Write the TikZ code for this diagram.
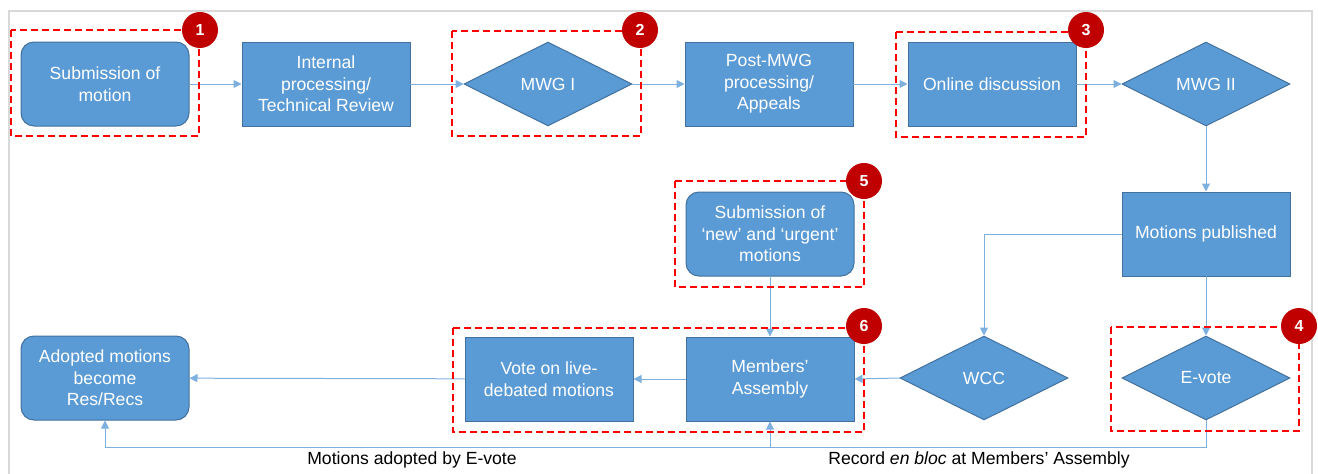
\documentclass[tikz,border=0pt]{standalone}
\usepackage{fontspec}
\setmainfont{Liberation Sans}
\usetikzlibrary{arrows.meta,shapes.geometric}
\definecolor{boxblue}{HTML}{5B9BD5}
\definecolor{boxline}{HTML}{41719C}
\definecolor{linkblue}{HTML}{7EB0DF}
\definecolor{badgered}{HTML}{C00000}
\definecolor{framegray}{HTML}{D9D9D9}

\begin{document}
\begin{tikzpicture}[x=1pt,y=-1pt,every path/.style={line cap=round}]

        \tikzset{proc/.style = {shape=rectangle,draw=boxline,fill=boxblue,line width=1pt,
                 minimum width=168pt,minimum height=84pt,inner sep=2pt,text=white,align=center,
                 font=\fontsize{17.6}{21.5}\selectfont}}
        \tikzset{start/.style = {proc,rounded corners=13pt}}
        \tikzset{decision/.style = {proc,shape=diamond,inner sep=0pt}}
        \tikzset{edge/.style = {draw=linkblue,line width=1pt,-{Triangle[length=8pt,width=8pt]}}}
        \tikzset{group/.style = {draw=red,line width=1.5pt,dash pattern=on 7pt off 4pt,line cap=butt}}
        \tikzset{badge/.style = {shape=circle,fill=badgered,minimum size=36pt,
                 inner sep=0pt,text=white,font=\fontsize{16}{16}\selectfont\bfseries}}

        \useasboundingbox (0,0) rectangle (1318,474);
        \draw[framegray,line width=2pt] (9,480) -- (9,11) -- (1312,11) -- (1312,480);

        % top row
        \node[start] (1) at (105,84) {Submission of\\motion};
        \node[proc] (2) at (326,84) {Internal\\processing/\\Technical Review};
        \node[decision] (3) at (548,84) {MWG I};
        \node[proc] (4) at (769,84) {Post-MWG\\processing/\\Appeals};
        \node[proc] (5) at (992,84) {Online discussion};
        \node[decision] (6) at (1206,84) {MWG II};

        % right column and bottom row
        \node[proc] (7) at (1206,234) {Motions published};
        \node[decision] (8) at (1206,378) {E-vote};
        \node[decision] (9) at (984,378) {WCC};
        \node[start] (10) at (770,234) {Submission of\\`new' and `urgent'\\motions};
        \node[proc] (11) at (770,379) {Members'\\Assembly};
        \node[proc] (12) at (549,379) {Vote on live-\\debated motions};
        \node[start] (13) at (105,378) {Adopted motions\\become\\Res/Recs};

        \draw[edge] (1) to (2);
        \draw[edge] (2) to (3);
        \draw[edge] (3) to (4);
        \draw[edge] (4) to (5);
        \draw[edge] (5) to (6);
        \draw[edge] (6) to (7);
        \draw[edge] (7.west) -| (9.north);
        \draw[edge] (7) to (8);
        \draw[edge] (9.west) to (11.east);
        \draw[edge] (10) to (11);
        \draw[edge] (11) to (12);
        \draw[edge] (12) to (13);
        \draw[edge] (8.south) -- ++(0,27) -| (11.south);
        \draw[edge] (8.south) -- ++(0,27) -| (13.south);

        \node[font=\fontsize{17.6}{20}\selectfont] (l1) at (412,460) {Motions adopted by E-vote};
        \node[font=\fontsize{17.6}{20}\selectfont] (l2) at (979,460) {Record \textit{en bloc} at Members' Assembly};

        % numbered groups
        \draw[group] (11,30) rectangle (199,136);
        \draw[group] (452,31) rectangle (641,136);
        \draw[group] (896,32) rectangle (1086,137);
        \draw[group] (1111,327) rectangle (1299,431);
        \draw[group] (675,181) rectangle (864,287);
        \draw[group] (453,328) rectangle (864,432);

        \node[badge] (b1) at (200,30) {1};
        \node[badge] (b2) at (640,30) {2};
        \node[badge] (b3) at (1086,30) {3};
        \node[badge] (b4) at (1299,326) {4};
        \node[badge] (b5) at (864,181) {5};
        \node[badge] (b6) at (864,326) {6};
\end{tikzpicture}
\end{document}
